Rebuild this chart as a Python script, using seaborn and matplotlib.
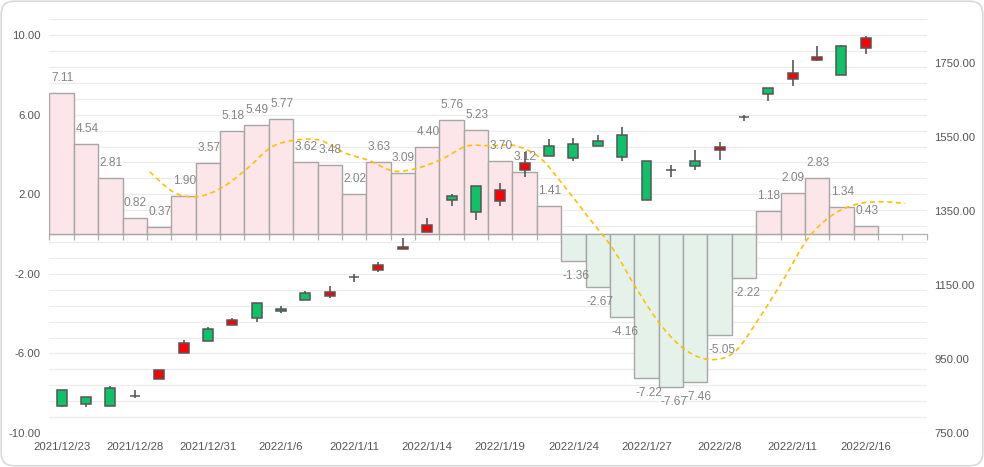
import numpy as np
import pandas as pd
import matplotlib
matplotlib.use('Agg')
import matplotlib.pyplot as plt
import matplotlib.transforms as mtransforms
from matplotlib.patches import FancyBboxPatch, PathPatch
from matplotlib.path import Path
from matplotlib.ticker import FixedLocator, NullFormatter
import seaborn as sns

# trading days on the category axis
dates = ['2021/12/23', '2021/12/24', '2021/12/27', '2021/12/28', '2021/12/29', '2021/12/30',
         '2021/12/31', '2022/1/4', '2022/1/5', '2022/1/6', '2022/1/7', '2022/1/10',
         '2022/1/11', '2022/1/12', '2022/1/13', '2022/1/14', '2022/1/17', '2022/1/18',
         '2022/1/19', '2022/1/20', '2022/1/21', '2022/1/24', '2022/1/25', '2022/1/26',
         '2022/1/27', '2022/1/28', '2022/2/7', '2022/2/8', '2022/2/9', '2022/2/10',
         '2022/2/11', '2022/2/14', '2022/2/15', '2022/2/16', '2022/2/17', '2022/2/18']

# histogram values (left axis)
bar_values = [7.11, 4.54, 2.81, 0.82, 0.37, 1.90, 3.57, 5.18, 5.49, 5.77, 3.62, 3.48,
              2.02, 3.63, 3.09, 4.40, 5.76, 5.23, 3.70, 3.12, 1.41, -1.36, -2.67, -4.16,
              -7.22, -7.67, -7.46, -5.05, -2.22, 1.18, 2.09, 2.83, 1.34, 0.43]

# dashed average line (left axis), starts at the 5th day
avg_start = 4
avg_values = [3.13, 2.09, 1.89, 2.37, 3.30, 4.38, 4.73, 4.71, 4.08, 3.70, 3.17, 3.32,
              3.78, 4.42, 4.44, 4.44, 3.84, 2.42, 0.84, -0.73, -2.80, -4.62, -5.84, -6.31,
              -5.92, -4.24, -2.29, -0.23, 0.95, 1.50, 1.63, 1.54]

# candlesticks (right axis)
k_open = [865, 847, 871, 851, 895, 966, 1031, 1041, 1101, 1085, 1128, 1120, 1173, 1190,
          1247, 1293, 1390, 1418, 1377, 1461, 1526, 1532, 1539, 1556, 1485, 1461, 1486,
          1516, 1605, 1682, 1707, 1759, 1796, 1791]
k_close = [822, 828, 822, 851, 920, 993, 998, 1055, 1062, 1079, 1111, 1131, 1173, 1204,
           1252, 1312, 1379, 1347, 1407, 1480, 1498, 1493, 1525, 1496, 1381, 1461, 1471,
           1524, 1605, 1668, 1725, 1767, 1718, 1818]
k_high = [866, 847, 877, 865, 921, 1002, 1037, 1061, 1101, 1093, 1134, 1148, 1179, 1212,
          1278, 1331, 1396, 1418, 1426, 1509, 1545, 1548, 1556, 1578, 1485, 1475, 1515,
          1537, 1610, 1682, 1759, 1796, 1799, 1824]
k_low = [821, 821, 822, 845, 895, 966, 998, 1041, 1051, 1074, 1111, 1116, 1159, 1186,
         1247, 1293, 1363, 1326, 1365, 1443, 1498, 1487, 1525, 1486, 1381, 1443, 1461,
         1488, 1595, 1649, 1689, 1756, 1718, 1776]

left_ticks = [10, 6, 2, -2, -6, -10]
right_ticks = [750, 950, 1150, 1350, 1550, 1750]


def smooth_path(xs, ys):
    """Catmull-Rom style bezier path through the given points"""
    pts = np.column_stack([xs, ys]).astype(float)
    verts = [pts[0]]
    codes = [Path.MOVETO]
    n = len(pts)
    for i in range(n - 1):
        p0 = pts[max(i - 1, 0)]
        p1 = pts[i]
        p2 = pts[i + 1]
        p3 = pts[min(i + 2, n - 1)]
        verts += [p1 + (p2 - p0) / 6, p2 - (p3 - p1) / 6, p2]
        codes += [Path.CURVE4] * 3
    return Path(verts, codes)


sns.set_theme(style='white')
plt.rcParams['font.family'] = ['Liberation Sans', 'DejaVu Sans']
plt.rcParams['font.size'] = 8.2

fig = plt.figure(figsize=(9.84, 4.67), dpi=100)
ax = fig.add_axes([0.0503, 0.0728, 0.8915, 0.8859])

df = pd.DataFrame({'date': dates[:len(bar_values)], 'value': bar_values})
df['sign'] = np.where(df['value'] >= 0, 'pos', 'neg')
sns.barplot(data=df, x='date', y='value', hue='sign', order=dates,
            palette={'pos': '#ffe3e6', 'neg': '#e2f4e9'}, dodge=False, width=1.0,
            edgecolor='#a6a6a6', linewidth=1, errorbar=None, legend=False, ax=ax, zorder=2)

# value labels, left aligned on the bar edge
for i, v in enumerate(bar_values):
    ax.annotate(f'{v:.2f}', xy=(i - 0.5, v), xytext=(1, 10.8 if v >= 0 else -10.8),
                textcoords='offset points', ha='left', va='center',
                color='#858585', fontsize=8.6, zorder=5)

# dashed average line (drawn slightly left of the bin centers as in the source)
shift = mtransforms.offset_copy(ax.transData, fig=fig, x=-9.3, y=0, units='dots')
avg_x = np.arange(avg_start, avg_start + len(avg_values))
ax.add_patch(PathPatch(smooth_path(avg_x, avg_values), facecolor='none',
                       edgecolor='#ffc000', lw=1.2, ls=(0, (3, 2.2)),
                       transform=shift, zorder=4))

ymin, ymax = -10, 10.8
ax.set_ylim(ymin, ymax)
ax.set_xlim(-0.5, len(dates) - 0.5)
ax.yaxis.set_major_locator(FixedLocator(left_ticks))
ax.yaxis.set_minor_locator(FixedLocator(np.arange(-10, 10.81, 0.8)))
ax.yaxis.set_minor_formatter(NullFormatter())
ax.set_yticklabels([f'{t:.2f}' for t in left_ticks])
ax.grid(axis='y', which='both', color='#ececec', lw=0.9, zorder=0)
ax.set_axisbelow(True)
ax.tick_params(axis='y', which='both', length=0, pad=6.3, colors='#555555', labelsize=8.2)
ax.set_xticks(range(0, len(dates), 3))
ax.set_xticklabels(dates[::3])
ax.tick_params(axis='x', length=0, pad=6.5, colors='#555555', labelsize=8.2)
ax.set_xlabel('')
ax.set_ylabel('')
for s in ax.spines.values():
    s.set_visible(False)

# zero line with category boundary ticks
zero_ax = ax.secondary_xaxis((0 - ymin) / (ymax - ymin))
zero_ax.set_xticks(np.arange(-0.5, len(dates), 1))
zero_ax.set_xticklabels([])
zero_ax.tick_params(axis='x', direction='out', length=4, width=0.9, color='#b0b0b0')
zero_ax.spines['bottom'].set_color('#b0b0b0')
zero_ax.spines['bottom'].set_linewidth(0.9)

# candlesticks on the right axis
ax2 = ax.twinx()
kx = np.arange(len(k_open))
k_open_a = np.array(k_open)
k_close_a = np.array(k_close)
body_bottom = np.minimum(k_open_a, k_close_a)
body_height = np.abs(k_close_a - k_open_a)
colors = np.where(k_close_a > k_open_a, '#ff0000', '#10c267')
ax2.vlines(kx, k_low, k_high, color='#4a4a4a', lw=1.1, zorder=2)
ax2.bar(kx, body_height, bottom=body_bottom, width=0.41, color=colors,
        edgecolor='#555555', linewidth=1.1, zorder=3)
ax2.set_ylim(750, 1869)
ax2.set_yticks(right_ticks)
ax2.set_yticklabels([f'{t:.2f}' for t in right_ticks])
ax2.tick_params(axis='y', length=0, pad=5.3, colors='#555555', labelsize=8.2)
ax2.grid(False)
for s in ax2.spines.values():
    s.set_visible(False)

# rounded card border
card = FancyBboxPatch((0.012, 0.012), 9.84 - 0.024, 4.67 - 0.024,
                      boxstyle='round,pad=0,rounding_size=0.13',
                      transform=fig.dpi_scale_trans, facecolor='none',
                      edgecolor='#d9d9d9', lw=1.2)
fig.add_artist(card)

fig.savefig('out.png', dpi=100)
